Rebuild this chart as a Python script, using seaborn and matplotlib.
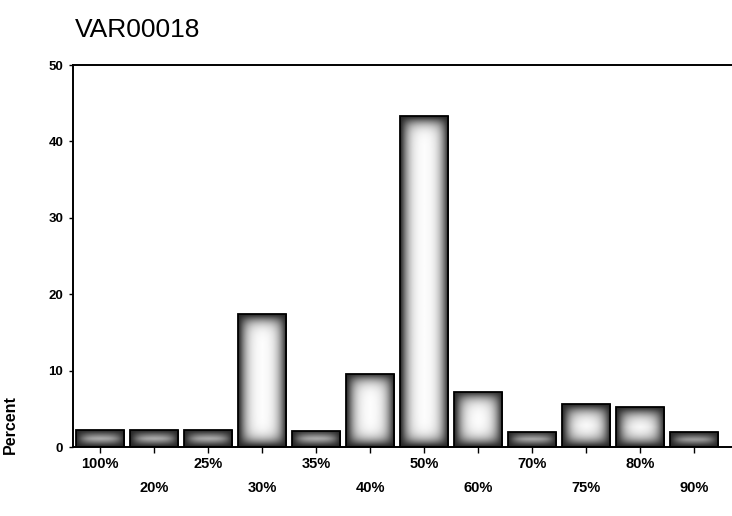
import numpy as np
import pandas as pd
import matplotlib
matplotlib.use("Agg")
import matplotlib.pyplot as plt
import seaborn as sns

# Frequency distribution of VAR00018 (percent of cases per category)
categories = ["100%", "20%", "25%", "30%", "35%", "40%",
              "50%", "60%", "70%", "75%", "80%", "90%"]
percent = [2.2, 2.2, 2.2, 17.4, 2.1, 9.6, 43.3, 7.2, 2.0, 5.6, 5.2, 1.9]
y_ticks = [0, 10, 20, 30, 40, 50]

sns.set_theme(style="white")
plt.rcParams["font.family"] = ["Liberation Sans", "DejaVu Sans"]

fig = plt.figure(figsize=(7.32, 5.16), dpi=100)
fig.patch.set_facecolor("white")
ax = fig.add_axes([0.0997, 0.1337, 0.9003, 0.7403])

df = pd.DataFrame({"category": categories, "percent": percent})
sns.barplot(data=df, x="category", y="percent", order=categories,
            color="#222222", width=0.9, edgecolor="black", linewidth=1.3,
            ax=ax)

xlim = (-0.5, 11.7)
ylim = (0, 50)
ax.set_xlim(*xlim)
ax.set_ylim(*ylim)
fig.canvas.draw()

# Soft bevelled shading: dark near every bar edge, fading to white inside
for p in list(ax.patches):
    x0, y0 = p.get_x(), p.get_y()
    w, h = p.get_width(), p.get_height()
    px0, py0 = ax.transData.transform((x0, y0))
    px1, py1 = ax.transData.transform((x0 + w, y0 + h))
    W = max(int(abs(px1 - px0)), 2)
    H = max(int(abs(py1 - py0)), 2)
    xs = np.arange(W) + 0.5
    ys = np.arange(H) + 0.5
    dx = np.minimum(xs, W - xs)
    dy = np.minimum(ys, H - ys)
    fx = 1 - np.exp(-(dx / 8.0) ** 1.4)
    fy = 1 - np.exp(-(dy / 8.0) ** 1.4)
    shade = fy[:, None] * fx[None, :]
    im = ax.imshow(shade, cmap="gray", vmin=-0.18, vmax=1.0,
                   extent=(x0, x0 + w, y0, y0 + h), aspect="auto",
                   interpolation="bilinear", zorder=p.get_zorder() - 0.05)
    im.set_clip_path(p)
    p.set_facecolor("none")

ax.set_xlim(*xlim)
ax.set_ylim(*ylim)
ax.set_aspect("auto")

# Staggered category labels
ax.set_xticks(range(len(categories)))
ax.set_xticklabels([c if i % 2 == 0 else "\n" + c
                    for i, c in enumerate(categories)],
                   fontsize=10.5, fontweight="bold", linespacing=1.95)
ax.set_yticks(y_ticks)
ax.set_yticklabels([str(t) for t in y_ticks], fontsize=9.5, fontweight="bold")
ax.tick_params(axis="x", bottom=True, length=4, width=1, pad=3, colors="black")
ax.tick_params(axis="y", left=True, length=3, width=1, pad=4, colors="black")

ax.set_xlabel("")
ax.set_ylabel("Percent", fontsize=11.5, fontweight="bold", color="black")
ax.yaxis.set_label_coords(-0.083, 0.06)

for side in ("left", "bottom", "top"):
    ax.spines[side].set_visible(True)
    ax.spines[side].set_color("black")
    ax.spines[side].set_linewidth(1.4)
ax.spines["right"].set_visible(False)

fig.text(75 / 732, 1 - 30 / 516, "VAR00018", fontsize=19,
         ha="left", va="center", color="black")

fig.savefig("out.png", dpi=100, facecolor="white")
